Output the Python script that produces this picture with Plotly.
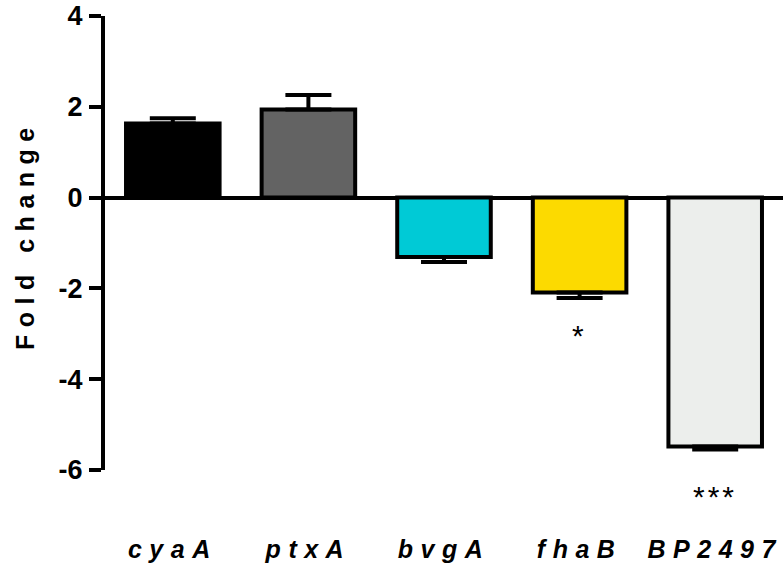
import plotly.graph_objects as go

# Gene names and mean fold change with one-sided error (SEM)
genes = ["cyaA", "ptxA", "bvgA", "fhaB", "BP2497"]
fold_change = [1.63, 1.94, -1.31, -2.09, -5.48]
error = [0.12, 0.32, 0.11, 0.12, 0.07]
bar_colors = ["#000000", "#636363", "#00CAD6", "#FCDA00", "#ECEEEC"]
significance = ["", "", "", "*", "***"]
y_ticks = [-6, -4, -2, 0, 2, 4]

up_err = [e if v > 0 else 0 for v, e in zip(fold_change, error)]
down_err = [e if v < 0 else 0 for v, e in zip(fold_change, error)]

spaced = '<span style="letter-spacing:7.5px"><b><i>{}</i></b></span>'
tick_text = [spaced.format(g) for g in genes]

FONT = "Liberation Sans, Arial"

fig = go.Figure()
fig.add_trace(go.Bar(
    x=genes,
    y=fold_change,
    width=0.69,
    marker=dict(color=bar_colors, line=dict(color="#000000", width=4)),
    error_y=dict(
        type="data",
        symmetric=False,
        array=up_err,
        arrayminus=down_err,
        color="#000000",
        thickness=4,
        width=23,
    ),
    cliponaxis=False,
))

# Significance markers anchored at the end of each error bar
for g, v, e, s in zip(genes, fold_change, error, significance):
    if s:
        fig.add_annotation(
            x=g, y=v - e,
            yshift=-38 if s == "*" else -47,
            text='<span style="letter-spacing:3px">' + s + '</span>',
            showarrow=False,
            font=dict(family=FONT, size=30, color="#000000"),
        )

# Y-axis title, rotated and letter-spaced
fig.add_annotation(
    xref="paper", yref="paper", x=0, y=0.5,
    xanchor="center", yanchor="middle",
    xshift=-80, yshift=8,
    textangle=-90,
    text='<span style="letter-spacing:7.5px"><b>Fold change</b></span>',
    showarrow=False,
    font=dict(family=FONT, size=25, color="#000000"),
)

fig.update_layout(
    width=783,
    height=563,
    margin=dict(l=105, r=0, t=16, b=93),
    paper_bgcolor="white",
    plot_bgcolor="white",
    showlegend=False,
    font=dict(family=FONT, color="#000000"),
)

fig.update_xaxes(
    tickmode="array",
    tickvals=genes,
    ticktext=tick_text,
    range=[-0.5, 4.5],
    showline=False,
    showgrid=False,
    ticks="",
    ticklabelstandoff=62,
    tickfont=dict(family=FONT, size=25, color="#000000"),
)

fig.update_yaxes(
    range=[-6, 4],
    tickmode="array",
    tickvals=y_ticks,
    ticktext=["<b>%d</b>" % t for t in y_ticks],
    showgrid=False,
    showline=True,
    linecolor="#000000",
    linewidth=4,
    ticks="outside",
    ticklen=12,
    tickwidth=4,
    tickcolor="#000000",
    ticklabelstandoff=1,
    tickfont=dict(family=FONT, size=27, color="#000000"),
    zeroline=True,
    zerolinecolor="#000000",
    zerolinewidth=4,
)

fig.write_html("out.html")
